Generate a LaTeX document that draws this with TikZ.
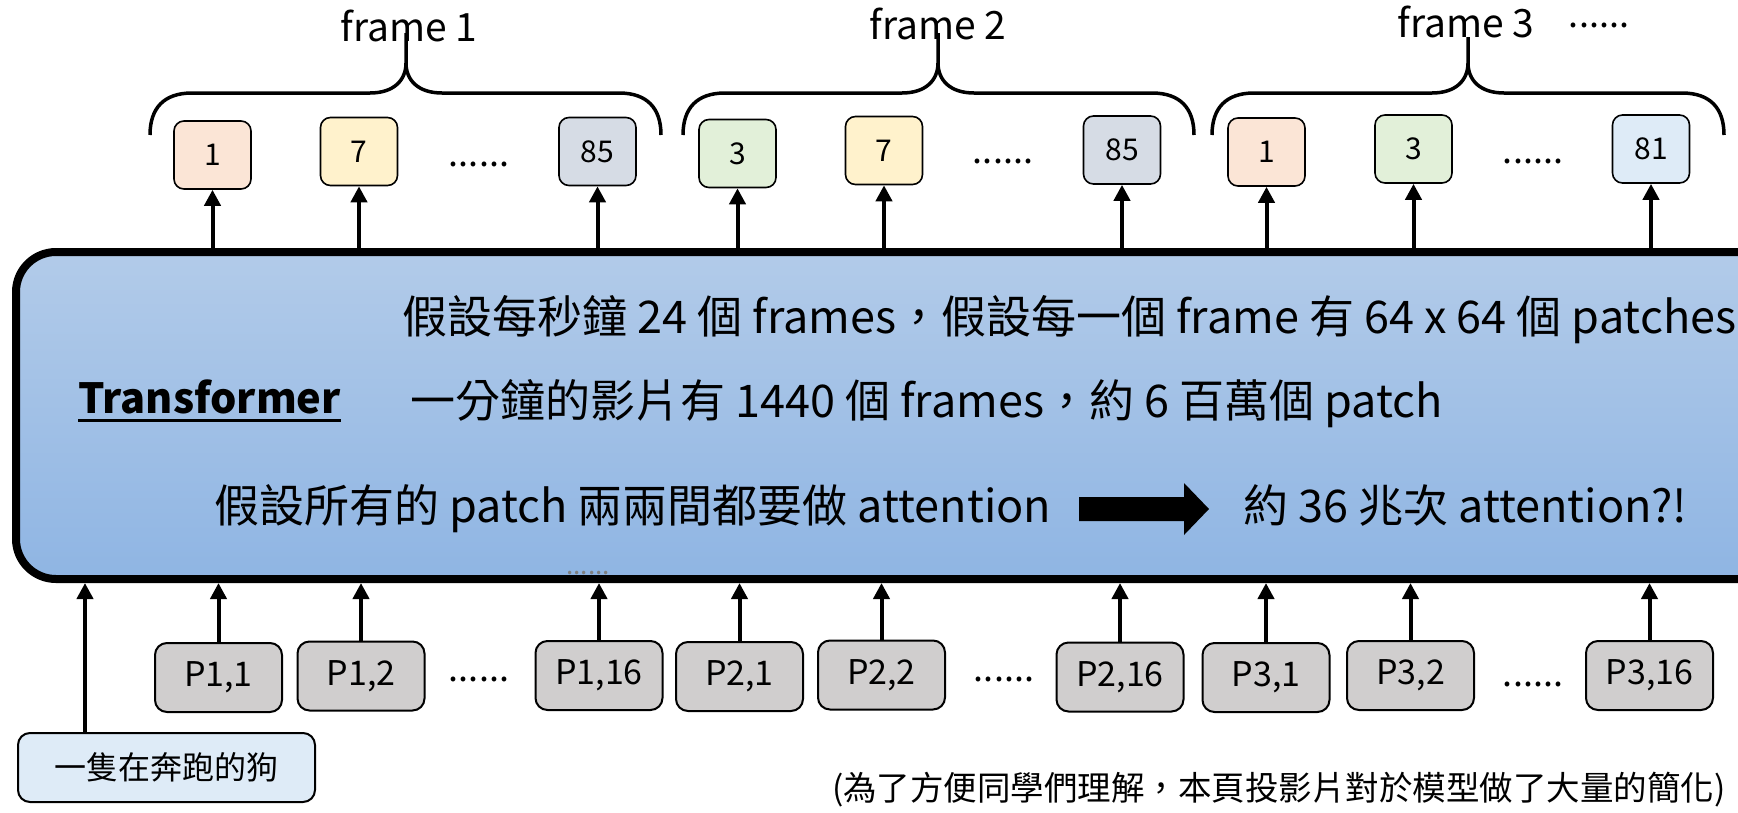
\documentclass[tikz,border=0pt]{standalone}
\usepackage{fontspec}
\setmainfont{Noto Sans CJK TC}
\usetikzlibrary{arrows.meta,calc}
\definecolor{boxtop}{RGB}{178,203,233}
\definecolor{boxbot}{RGB}{143,181,227}
\definecolor{cpeach}{RGB}{251,229,214}
\definecolor{cyellow}{RGB}{255,242,204}
\definecolor{cgray}{RGB}{214,220,229}
\definecolor{cgreen}{RGB}{226,240,217}
\definecolor{clblue}{RGB}{222,235,247}
\definecolor{pgray}{RGB}{208,206,206}
\newcommand\fbrace[4]{%
  \draw[bracel] (#1,135) .. controls (#1,108) and (#1+14,93) .. (#1+42,93) -- (#2-36,93)
    .. controls (#2-12,93) and (#2,80) .. (#2,63) -- (#2,#4)
    (#2,63) .. controls (#2,80) and (#2+12,93) .. (#2+36,93) -- (#3-42,93)
    .. controls (#3-14,93) and (#3,108) .. (#3,135);}
\begin{document}
\begin{tikzpicture}[x=1pt,y=-1pt,
  numbox/.style={draw=black, line width=1.6pt, rounded corners=10pt, minimum width=77pt, minimum height=68pt, inner sep=0pt, font=\fontsize{30}{32}\selectfont},
  pbox/.style={draw=black, line width=2pt, rounded corners=12pt, fill=pgray, minimum width=127pt, minimum height=69pt, inner sep=0pt, font=\fontsize{34}{36}\selectfont},
  arr/.style={line width=4pt, -{Triangle[length=16pt,width=16pt]}},
  bracel/.style={line width=3.5pt},
  flabel/.style={anchor=base, inner sep=0pt, text height=29pt, text depth=0pt, font=\fontsize{39}{41}\selectfont},
  dots/.style={anchor=base, inner sep=0pt, font=\fontsize{36}{38}\selectfont},
  bigtext/.style={anchor=base west, inner sep=0pt, font=\fontsize{45}{48}\selectfont}]
\useasboundingbox (0,0) rectangle (1738,812);
\clip (0,0) rectangle (1738,812);
% transformer box
\node[draw=black, line width=8pt, rounded corners=40pt, top color=boxtop, bottom color=boxbot,
  minimum width=1784pt, minimum height=327pt, outer sep=0pt, inner sep=0pt, anchor=north west] (tf) at (16,252) {};
\node[gray, anchor=center, inner sep=0pt, font=\fontsize{26}{28}\selectfont] (hd) at (588,573) {......};
% frame labels and braces
\node[flabel] (f1) at (409,41) {frame 1};
\node[flabel] (f2) at (938,39) {frame 2};
\node[flabel] (f3) at (1466,37) {frame 3};
\node[dots] (f3d) at (1599,27) {......};
\fbrace{150}{406}{661}{33}
\fbrace{683}{938}{1194}{33}
\fbrace{1212}{1468}{1724}{37}
% output tokens
\node[numbox, fill=cpeach] (t11) at (212.5,155) {1};
\node[numbox, fill=cyellow] (t12) at (359,151.5) {7};
\node[numbox, fill=cgray] (t13) at (597.5,151.5) {85};
\node[numbox, fill=cgreen] (t21) at (737.5,153.5) {3};
\node[numbox, fill=cyellow] (t22) at (884,150.5) {7};
\node[numbox, fill=cgray] (t23) at (1122,150) {85};
\node[numbox, fill=cpeach] (t31) at (1266.5,152) {1};
\node[numbox, fill=cgreen] (t32) at (1413.5,149) {3};
\node[numbox, fill=clblue] (t33) at (1651,149) {81};
\node[dots] (d1) at (479,166) {......};
\node[dots] (d2) at (1003,163) {......};
\node[dots] (d3) at (1533,163) {......};
\foreach \n in {t11,t12,t13,t21,t22,t23,t31,t32,t33}
  \draw[arr] (\n.south |- tf.north) -- (\n.south);
% input patches
\node[pbox] (p11) at (218.5,677.5) {P1,1};
\node[pbox] (p12) at (361,676) {P1,2};
\node[pbox] (p13) at (599,675.5) {P1,16};
\node[pbox] (p21) at (739.5,676.5) {P2,1};
\node[pbox] (p22) at (881.5,675) {P2,2};
\node[pbox] (p23) at (1120,677) {P2,16};
\node[pbox] (p31) at (1266,677.5) {P3,1};
\node[pbox] (p32) at (1410.5,675.5) {P3,2};
\node[pbox] (p33) at (1649.5,675.5) {P3,16};
\node[dots] (e1) at (479,681) {......};
\node[dots] (e2) at (1004,681) {......};
\node[dots] (e3) at (1533,686) {......};
\foreach \n in {p11,p12,p13,p21,p22,p23,p31,p32,p33}
  \draw[arr] (\n.north) -- ($(\n.north |- tf.south)+(0,4)$);
% text prompt
\node[draw=black, line width=2pt, rounded corners=12pt, fill=clblue, minimum width=297pt, minimum height=69pt, inner sep=0pt,
  font=\fontsize{32}{34}\selectfont] (txt) at (166.5,767.5) {一隻在奔跑的狗};
\coordinate (ta) at ($(txt.north west)+(68,0)$);
\draw[arr] (ta) -- ($(ta |- tf.south)+(0,4)$);
% texts in the box
\node[anchor=base west, inner sep=0pt, font=\bfseries\fontsize{41.5}{44}\selectfont] (trn) at (78,413) {Transformer};
\draw[line width=3pt] ([yshift=-7pt]trn.base west) -- ([yshift=-7pt]trn.base east);
\node[bigtext] (l1) at (402,333) {假設每秒鐘 24 個 frames，假設每一個 frame 有 64 x 64 個 patches};
\node[bigtext] (l2) at (410,417) {一分鐘的影片有 1440 個 frames，約 6 百萬個 patch};
\node[bigtext] (l3) at (214,522) {假設所有的 patch 兩兩間都要做 attention};
\node[bigtext] (l4) at (1243,522) {約 36 兆次 attention?!};
\fill (1079,497) -- (1184,497) -- (1184,483) -- (1209,509) -- (1184,535) -- (1184,521) -- (1079,521) -- cycle;
% note
\node[anchor=east, inner sep=0pt, font=\fontsize{33.5}{35}\selectfont] (note) at (1726,790) {(為了方便同學們理解，本頁投影片對於模型做了大量的簡化)};
\end{tikzpicture}
\end{document}
